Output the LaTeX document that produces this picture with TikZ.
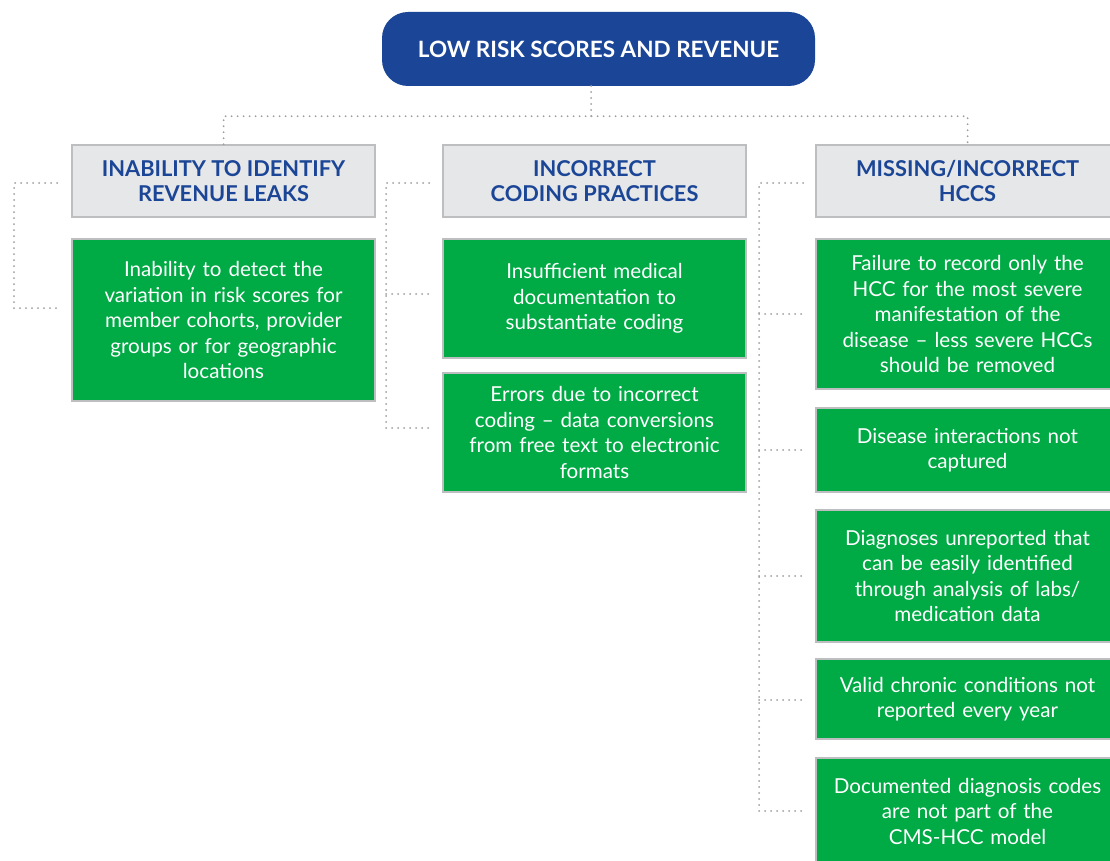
\documentclass[tikz,border=0pt]{standalone}
\usepackage{fontspec}
\setmainfont{Lato}
\definecolor{riskblue}{HTML}{1B4596}
\definecolor{riskgreen}{HTML}{00AA45}
\definecolor{headgray}{HTML}{E6E7E8}
\definecolor{rimgray}{HTML}{BCBEC0}
\definecolor{dotgray}{HTML}{9D9D9D}
\begin{document}
\begin{tikzpicture}[x=1pt, y=-1pt,
    root/.style={fill=riskblue, rounded corners=26pt, minimum width=433pt, minimum height=74pt,
        text=white, font=\bfseries\fontsize{22.5}{26}\selectfont},
    head/.style={draw=rimgray, line width=1.5pt, fill=headgray, minimum width=303pt, minimum height=72pt,
        inner sep=0pt, align=center, text=riskblue, font=\bfseries\fontsize{21.8}{24.5}\selectfont},
    cause/.style={draw=rimgray, line width=1.5pt, fill=riskgreen, text width=291pt, inner xsep=6pt, inner ysep=0pt,
        align=center, text=white, font=\fontsize{20.6}{25.5}\selectfont},
    link/.style={dotgray, line width=2pt, line cap=round, dash pattern=on 0pt off 6pt}
]
\useasboundingbox ( 0, 0 ) rectangle ( 1110, 861 );
\clip ( 0, 0 ) rectangle ( 1110, 861 );

% вершина
                \node [root] (root) at ( 598.5, 49 ) {LOW RISK SCORES AND REVENUE};

% заголовки столбцов
                \node [head] (leak) at ( 223.5, 181 ) {INABILITY TO IDENTIFY\\REVENUE LEAKS};
                \node [head] (coding) at ( 594.5, 181 ) {INCORRECT\\CODING PRACTICES};
                \node [head] (hcc) at ( 967.5, 181 ) {MISSING/INCORRECT\\HCCS};

% зелёные блоки
                \node [cause, minimum height=162pt] (leak1) at ( 223.5, 320 ) {Inability to detect the\\variation in risk scores for\\member cohorts, provider\\groups or for geographic\\locations};
                \node [cause, minimum height=119pt] (coding1) at ( 594.5, 298.5 ) {Insufficient medical\\documentation to\\substantiate coding};
                \node [cause, minimum height=119pt] (coding2) at ( 594.5, 432.5 ) {Errors due to incorrect\\coding -- data conversions\\from free text to electronic\\formats};
                \node [cause, minimum height=150pt] (hcc1) at ( 967.5, 314 ) {Failure to record only the\\HCC for the most severe\\manifestation of the\\disease -- less severe HCCs\\should be removed};
                \node [cause, minimum height=84pt] (hcc2) at ( 967.5, 450 ) {Disease interactions not\\captured};
                \node [cause, minimum height=132pt] (hcc3) at ( 967.5, 576 ) {Diagnoses unreported that\\can be easily identified\\through analysis of labs/\\medication data};
                \node [cause, minimum height=80pt] (hcc4) at ( 967.5, 699 ) {Valid chronic conditions not\\reported every year};
                \node [cause, minimum height=106pt] (hcc5) at ( 967.5, 811 ) {Documented diagnosis codes\\are not part of the\\CMS-HCC model};

% связи сверху
                \draw [link] ( 591, 86 ) -- ( 591, 117 );
                \draw [link] (leak.north) -- ++( 0, -28 ) -| (hcc.north);

% скобки слева
                \draw [link] ( 57, 183 ) -- ( 14, 183 ) -- ( 14, 308 ) -- ( 57, 308 );
                \draw [link] ( 429, 183 ) -- ( 386, 183 ) -- ( 386, 428 ) -- ( 429, 428 );
                \draw [link] ( 386, 294 ) -- ( 429, 294 );
                \draw [link] ( 803, 183 ) -- ( 759, 183 ) -- ( 759, 811 ) -- ( 803, 811 );
                \foreach \y in { 314, 450, 576, 700 }
                    \draw [link] ( 759, \y ) -- ( 803, \y );
\end{tikzpicture}
\end{document}
